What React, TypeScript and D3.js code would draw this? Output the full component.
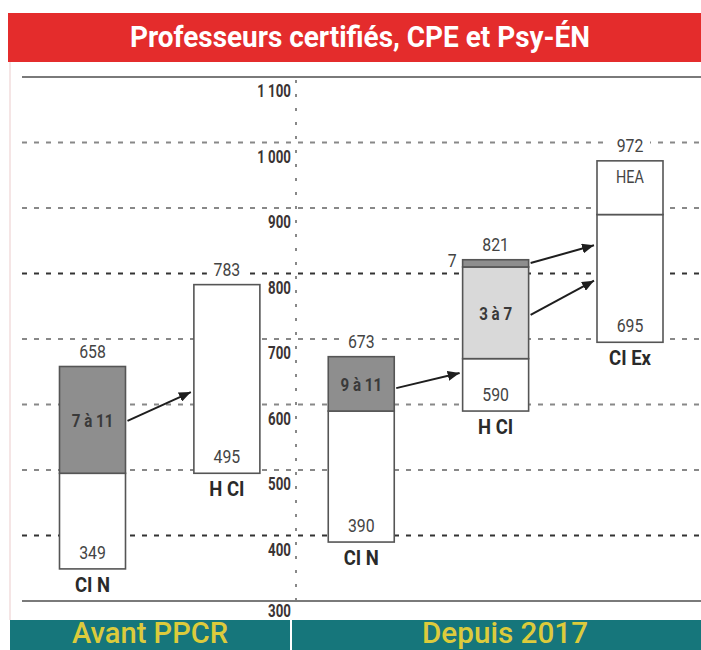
import React from "react";
import * as d3 from "d3";

// ---- data ----
const categories = ["CI N", "H CI", "CI N", "H CI", "CI Ex"];
const bottoms = [349, 495, 390, 590, 695];
const tops = [658, 783, 673, 821, 972];
// segments: bar index, from, to, kind, label
const segments = [
  { bar: 0, from: 349, to: 495, kind: "white", label: "" },
  { bar: 0, from: 495, to: 658, kind: "dark", label: "7 à 11" },
  { bar: 1, from: 495, to: 783, kind: "white", label: "" },
  { bar: 2, from: 390, to: 590, kind: "white", label: "" },
  { bar: 2, from: 590, to: 673, kind: "dark", label: "9 à 11" },
  { bar: 3, from: 590, to: 670, kind: "white", label: "" },
  { bar: 3, from: 670, to: 810, kind: "light", label: "3 à 7" },
  { bar: 3, from: 810, to: 821, kind: "dark", label: "" },
  { bar: 4, from: 695, to: 890, kind: "white", label: "" },
  { bar: 4, from: 890, to: 972, kind: "white", label: "HEA" },
];
const sideLabels = [{ bar: 3, value: 810, text: "7" }];
const arrows = [
  { from: 0, fromV: 575, to: 1, toV: 619 },
  { from: 2, fromV: 625, to: 3, toV: 648 },
  { from: 3, fromV: 816, to: 4, toV: 843 },
  { from: 3, fromV: 737, to: 4, toV: 789 },
];
const yTicks = [300, 400, 500, 600, 700, 800, 900, 1000, 1100];
const yTickLabels = ["300", "400", "500", "600", "700", "800", "900", "1 000", "1 100"];
const gridTicks = [400, 500, 600, 700, 800, 900, 1000];
const darkGrid = [800, 400];
const title = "Professeurs certifiés, CPE et Psy-ÉN";
const periods = ["Avant PPCR", "Depuis 2017"];

// ---- layout ----
const W = 701;
const H = 650;
const y = d3.scaleLinear().domain([300, 1100]).range([601, 77]);
const x = d3.scaleLinear().domain([0, 4]).range([92.5, 630]);
const barW = 66;
const axisX = 296;
const FONT = "Roboto, 'DejaVu Sans', sans-serif";
const fills: Record<string, string> = { white: "#ffffff", dark: "#8e8e8e", light: "#d9d9d9" };

function CText(props: {
  x: number; y: number; text: string; size: number; sx: number;
  weight?: string | number; fill?: string; anchor?: string;
}) {
  const { x: tx, y: ty, text, size, sx, weight = "normal", fill = "#444", anchor = "middle" } = props;
  return (
    <g transform={`translate(${tx},${ty}) scale(${sx},1)`}>
      <text x={0} y={0} fontFamily={FONT} fontSize={size} fontWeight={weight} fill={fill} textAnchor={anchor as any}>
        {text}
      </text>
    </g>
  );
}

export default function App() {
  return (
    <svg width={W} height={H} style={{ position: "absolute", left: 0, top: 0, background: "#fff" }}>
      <defs>
        <marker id="ah" viewBox="0 0 12 10" refX={12} refY={5} markerWidth={12} markerHeight={10} markerUnits="userSpaceOnUse" orient="auto">
          <path d="M0,0 L12,5 L0,10 Z" fill="#1e1e1e" />
        </marker>
      </defs>
      <rect x={0} y={0} width={W} height={H} fill="#fff" />
      {/* faint left border */}
      <line x1={10} x2={10} y1={62} y2={620} stroke="#f2dcdc" strokeWidth={1.5} />

      {/* title */}
      <rect x={8} y={13} width={W - 8} height={49} fill="#e42c2c" />
      <text x={360} y={47} fontFamily={FONT} fontSize={29} fontWeight="bold" fill="#fff" textAnchor="middle" textLength={460} lengthAdjust="spacingAndGlyphs">
        {title}
      </text>

      {/* frame lines */}
      <line x1={22} x2={W} y1={y(1100)} y2={y(1100)} stroke="#7a7a7a" strokeWidth={2} />
      <line x1={22} x2={W} y1={y(300)} y2={y(300)} stroke="#7a7a7a" strokeWidth={2} />

      {/* grid */}
      {gridTicks.map((t) => (
        <line key={t} x1={22} x2={W} y1={y(t)} y2={y(t)} stroke={darkGrid.includes(t) ? "#333" : "#888"} strokeWidth={2} strokeDasharray="5 7" />
      ))}
      {/* vertical axis dotted */}
      <line x1={axisX} x2={axisX} y1={80} y2={600} stroke="#888" strokeWidth={2} strokeDasharray="3 11" />
      {yTicks.map((t, i) => (
        <CText key={t} x={291} y={t === 300 ? y(t) + 16 : y(t) + 20} text={yTickLabels[i]} size={18} sx={0.74} weight="bold" fill="#3b3434" anchor="end" />
      ))}

      {/* arrows */}
      {arrows.map((a, i) => (
        <line key={i} x1={x(a.from) + barW / 2 + 2} y1={y(a.fromV)} x2={x(a.to) - barW / 2 - 3} y2={y(a.toV)} stroke="#1e1e1e" strokeWidth={2} markerEnd="url(#ah)" />
      ))}

      {/* bars */}
      {segments.map((s, i) => (
        <rect key={i} x={x(s.bar) - barW / 2} y={y(s.to)} width={barW} height={y(s.from) - y(s.to)} fill={fills[s.kind]} stroke="#555" strokeWidth={1.6} />
      ))}
      {segments.filter((s) => s.label && s.label !== "HEA").map((s, i) => (
        <CText key={i} x={x(s.bar)} y={(y(s.from) + y(s.to)) / 2 + 7} text={s.label} size={18} sx={0.84} weight="bold" fill="#3a3a3a" />
      ))}
      {segments.filter((s) => s.label === "HEA").map((s, i) => (
        <CText key={i} x={x(s.bar)} y={y(s.to) + 22} text={s.label} size={18} sx={0.8} fill="#444" />
      ))}
      {sideLabels.map((s, i) => (
        <CText key={i} x={x(s.bar) - barW / 2 - 6} y={y(s.value)} text={s.text} size={18} sx={0.88} fill="#444" anchor="end" />
      ))}

      {/* value labels */}
      {tops.map((v, i) => (
        <g key={"t" + i}>
          <rect x={x(i) - 20} y={y(v) - 24} width={40} height={18} fill="#fff" />
          <CText x={x(i)} y={y(v) - 9} text={String(v)} size={18} sx={0.88} fill="#444" />
        </g>
      ))}
      {bottoms.map((v, i) => (
        <CText key={"b" + i} x={x(i)} y={y(v) - 10} text={String(v)} size={18} sx={0.88} fill="#444" />
      ))}
      {categories.map((c, i) => (
        <CText key={"c" + i} x={x(i)} y={y(bottoms[i]) + 23} text={c} size={21} sx={0.88} weight="bold" fill="#2a2a2a" />
      ))}

      {/* footer */}
      <rect x={10} y={620} width={W - 10} height={30} fill="#16767b" />
      <line x1={291} x2={291} y1={620} y2={650} stroke="#fff" strokeWidth={2} />
      <text x={150} y={643} fontFamily={FONT} fontSize={29} fontWeight={500} fill="#dccb3c" textAnchor="middle" textLength={156} lengthAdjust="spacingAndGlyphs">
        {periods[0]}
      </text>
      <text x={505} y={643} fontFamily={FONT} fontSize={29} fontWeight={500} fill="#dccb3c" textAnchor="middle" textLength={166} lengthAdjust="spacingAndGlyphs">
        {periods[1]}
      </text>
    </svg>
  );
}
